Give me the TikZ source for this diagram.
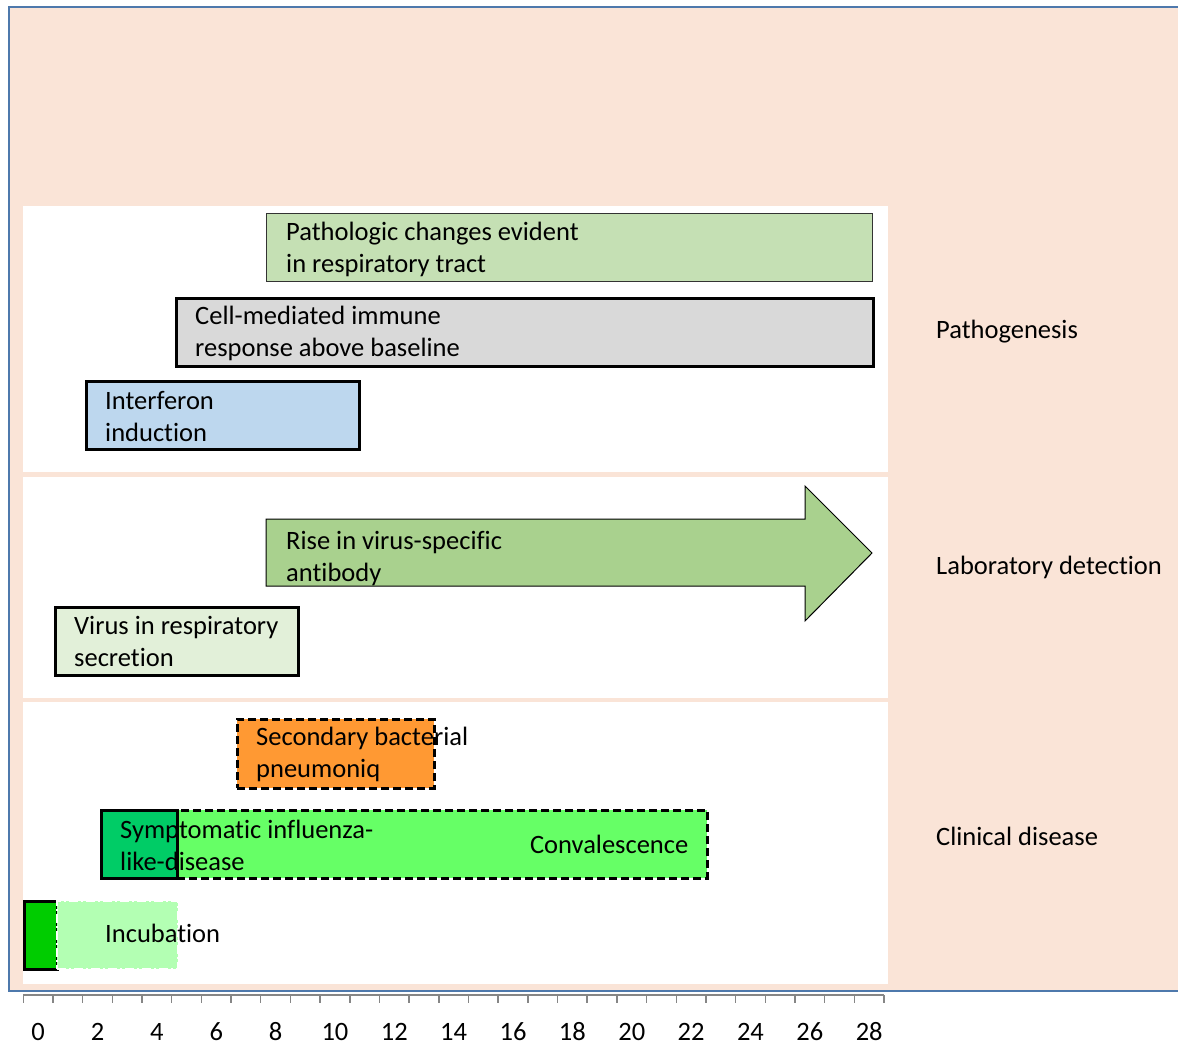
\documentclass[tikz,border=0pt]{standalone}
\usepackage{fontspec}
\setmainfont{Carlito}[Ligatures=CommonOff]
\usetikzlibrary{positioning}
\definecolor{peach}{HTML}{FAE4D7}
\definecolor{frameblue}{HTML}{4E79AC}
\definecolor{axisgray}{HTML}{868686}
\definecolor{pathogreen}{HTML}{C5E0B4}
\definecolor{cellgray}{HTML}{D9D9D9}
\definecolor{ifnblue}{HTML}{BDD7EE}
\definecolor{abgreen}{HTML}{A9D18E}
\definecolor{virusgreen}{HTML}{E2F0D9}
\definecolor{bactorange}{HTML}{FF9933}
\definecolor{sympgreen}{HTML}{00CC66}
\definecolor{convgreen}{HTML}{66FF66}
\definecolor{incgreen}{HTML}{00CC00}
\definecolor{inclight}{HTML}{B3FFB3}

\begin{document}
\begin{tikzpicture}[x=1pt, y=-1pt, font=\fontsize{26.5}{32}\selectfont,
  band/.style={fill=white},
  bar/.style={draw, rectangle, anchor=north west, inner sep=0pt, minimum height=68pt, line width=2.5pt},
  thinbar/.style={bar, line width=1pt, draw=black!80},
  dashbar/.style={bar, dash pattern=on 8pt off 4pt},
  lbl/.style={anchor=west, align=left, inner sep=0pt},
  side/.style={anchor=west, inner sep=0pt}]
\useasboundingbox (0,0) rectangle (1178,1044);
% background and panels
\fill[peach] (9,7) rectangle (1190,991);
\draw[frameblue, line width=2.5pt] (1190,7) -- (9,7) -- (9,991) -- (1190,991);
\fill[band] (23,206) rectangle (888,472);
\fill[band] (23,477) rectangle (888,698);
\fill[band] (23,702) rectangle (888,984);

% pathogenesis
\node[thinbar, fill=pathogreen, minimum width=606pt] (patho) at (266,213) {};
\node[lbl] (pathoL) at ([xshift=20pt,yshift=-2pt]patho.west) {Pathologic changes evident\\in respiratory tract};
\node[bar, fill=cellgray, minimum width=697pt] (cell) at (175,297) {};
\node[lbl] (cellL) at ([xshift=20pt,yshift=-1pt]cell.west) {Cell-mediated immune\\response above baseline};
\node[bar, fill=ifnblue, minimum width=273pt] (ifn) at (85,380) {};
\node[lbl] (ifnL) at ([xshift=20pt,yshift=-1pt]ifn.west) {Interferon\\induction};

% laboratory detection
\draw[line width=1pt, fill=abgreen] (266,519) coordinate (ab) -- (805,519) -- (805,486)
  -- (872,553) -- (805,621) -- (805,586) -- (266,586) -- cycle;
\node[lbl] (abL) at ([xshift=20pt]ab |- 0,559) {Rise in virus-specific\\antibody};
\node[bar, fill=virusgreen, minimum width=243pt] (virus) at (54,606) {};
\node[lbl] (virusL) at ([xshift=20pt,yshift=0pt]virus.west) {Virus in respiratory\\secretion};

% clinical disease
\node[dashbar, fill=bactorange, minimum width=197pt, minimum height=69pt] (bact) at (236,718) {};
\node[lbl] (bactL) at ([xshift=20pt,yshift=-1pt]bact.west) {Secondary bacterial\\pneumoniq};
\node[dashbar, fill=convgreen, minimum width=530pt] (conv) at (176,809) {};
\node[bar, fill=sympgreen, minimum width=76pt] (symp) at (100,809) {};
\draw[line width=1pt] (symp.north east) -- (symp.south east);
\node[lbl] (sympL) at ([xshift=20pt,yshift=-1pt]symp.west) {Symptomatic influenza-\\like-disease};
\node[lbl, anchor=east] (convL) at ([xshift=-20pt]conv.east) {Convalescence};
\node[bar, fill=incgreen, minimum width=33pt] (inc) at (23,900) {};
\node[bar, fill=inclight, draw=white, line width=1.5pt, dash pattern=on 9pt off 3pt on 2pt off 3pt, minimum width=121pt] (incl) at (56,900) {};
\node[lbl] (incL) at ([xshift=49pt,yshift=1pt]incl.west) {Incubation};

% side labels
\node[side] (pathoS) at (936,332) {Pathogenesis};
\node[side] (labS) at (936,567) {Laboratory detection};
\node[side] (clinS) at (936,836) {Clinical disease};

% day axis
\draw[axisgray, line width=1.5pt] (23.3,995) -- (884,995);
\foreach \i in {0,...,29}
  \draw[axisgray, line width=1.5pt] ({23.3+\i*29.68},995) -- ++(0,8);
\foreach \d in {0,2,...,28}
  \node[inner sep=0pt] (day\d) at ({23.3+(\d+0.5)*29.68},1032) {\d};
\end{tikzpicture}
\end{document}
